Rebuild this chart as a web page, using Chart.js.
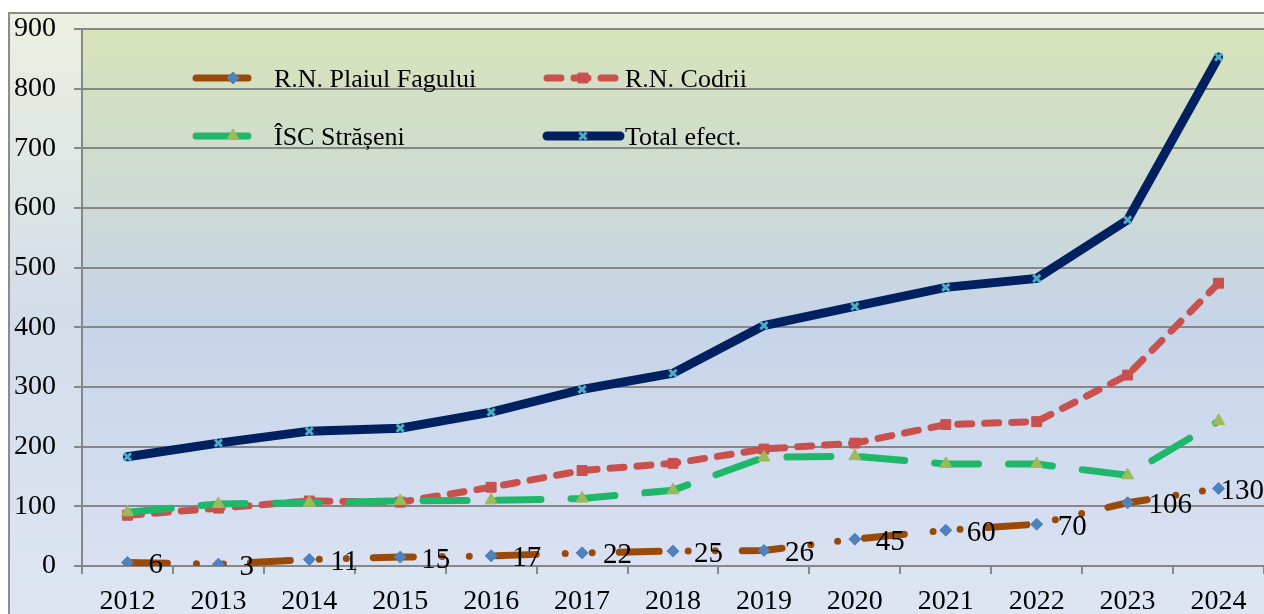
<!DOCTYPE html>
<html lang="ro">
<head>
<meta charset="UTF-8">
<title>Efective 2012-2024</title>
<script src="https://cdn.jsdelivr.net/npm/chart.js"></script>
<style>
  html, body { margin: 0; padding: 0; background: #fff; overflow: hidden; }
  #wrap { position: relative; width: 1272px; height: 614px; }
</style>
</head>
<body>
<div id="wrap"><canvas id="chart"></canvas></div>
<script>
const years = ['2012', '2013', '2014', '2015', '2016', '2017', '2018', '2019', '2020', '2021', '2022', '2023', '2024'];
const plaiulFagului = [6, 3, 11, 15, 17, 22, 25, 26, 45, 60, 70, 106, 130];
const codrii = [85, 97, 109, 107, 132, 160, 172, 196, 206, 237, 242, 320, 474];
const straseni = [90, 104, 106, 109, 110, 113, 127, 182, 184, 171, 171, 152, 243];
const totalEfect = [183, 206, 226, 231, 258, 296, 323, 403, 435, 467, 482, 580, 853];
const seriesNames = ['R.N. Plaiul Fagului', 'R.N. Codrii', 'ÎSC Strășeni', 'Total efect.'];

const serif = '"Liberation Serif", "Times New Roman", serif';
const gridGray = '#878787';

// background: outer frame + plot area gradients
const backgroundPlugin = {
  id: 'bg',
  beforeDraw(chart) {
    const ctx = chart.ctx, a = chart.chartArea;
    ctx.save();
    let g = ctx.createLinearGradient(0, 13, 0, chart.height);
    g.addColorStop(0, '#ebf0e0');
    g.addColorStop(0.5, '#d3dde9');
    g.addColorStop(1, '#dde5f3');
    ctx.fillStyle = g;
    ctx.fillRect(8, 13, chart.width - 8, chart.height - 13);
    g = ctx.createLinearGradient(0, a.top, 0, a.bottom);
    g.addColorStop(0, '#d7e3b9');
    g.addColorStop(0.55, '#c6d4e9');
    g.addColorStop(1, '#d9e1f2');
    ctx.fillStyle = g;
    ctx.fillRect(a.left, a.top, a.right - a.left, a.bottom - a.top);
    ctx.strokeStyle = '#8c8c8c';
    ctx.lineWidth = 2;
    ctx.beginPath();
    ctx.moveTo(9, chart.height);
    ctx.lineTo(9, 13);
    ctx.lineTo(chart.width, 13);
    ctx.stroke();
    ctx.restore();
  }
};

function drawMarker(ctx, ds, x, y) {
  ctx.save();
  ctx.fillStyle = ds.pointBackgroundColor;
  ctx.strokeStyle = ds.pointBorderColor;
  ctx.lineWidth = ds.pointBorderWidth || 1;
  Chart.helpers.drawPoint(ctx, {
    pointStyle: ds.pointStyle,
    radius: ds.pointRadius,
    borderWidth: ds.pointBorderWidth || 1,
    rotation: 0
  }, x, y);
  ctx.restore();
}

// value labels for the first series + legend inside the plot
const labelsPlugin = {
  id: 'labels',
  afterDatasetsDraw(chart) {
    const ctx = chart.ctx;
    ctx.save();
    ctx.fillStyle = '#000';
    ctx.font = '29px ' + serif;
    ctx.textBaseline = 'middle';
    ctx.textAlign = 'left';
    const meta = chart.getDatasetMeta(0);
    meta.data.forEach((pt, i) => {
      const txt = String(plaiulFagului[i]);
      const w = ctx.measureText(txt).width;
      let x = pt.x + 21;
      if (x + w > 1264) x = 1264 - w;
      ctx.fillText(txt, x, pt.y + 3);
    });

    // legend
    const items = [
      { ds: 0, x1: 196, x2: 248, mx: 233, tx: 274, y: 78 },
      { ds: 1, x1: 547, x2: 620, mx: 583, tx: 625, y: 78 },
      { ds: 2, x1: 196, x2: 248, mx: 233, tx: 274, y: 136 },
      { ds: 3, x1: 547, x2: 620, mx: 583, tx: 625, y: 136 }
    ];
    ctx.font = '26px ' + serif;
    ctx.textBaseline = 'alphabetic';
    items.forEach(it => {
      const ds = chart.data.datasets[it.ds];
      ctx.save();
      ctx.strokeStyle = ds.borderColor;
      ctx.lineWidth = ds.borderWidth;
      ctx.lineCap = 'round';
      ctx.setLineDash(it.ds === 1 ? ds.borderDash : []);
      ctx.beginPath();
      ctx.moveTo(it.x1, it.y);
      ctx.lineTo(it.x2, it.y);
      ctx.stroke();
      ctx.restore();
      drawMarker(ctx, ds, it.mx, it.y);
      ctx.fillStyle = '#000';
      ctx.fillText(seriesNames[it.ds], it.tx, it.y + 9);
    });
    ctx.restore();
  }
};

new Chart(document.getElementById('chart'), {
  type: 'line',
  data: {
    labels: years,
    datasets: [
      {
        label: seriesNames[0],
        data: plaiulFagului,
        borderColor: '#9a4a08',
        borderWidth: 7,
        borderDash: [40, 29, 0, 27, 0, 27],
        borderCapStyle: 'round',
        pointStyle: 'rectRot',
        pointRadius: 6,
        pointBackgroundColor: '#4f81bd',
        pointBorderColor: '#4f81bd',
        pointBorderWidth: 1,
        order: 3
      },
      {
        label: seriesNames[1],
        data: codrii,
        borderColor: '#c8504d',
        borderWidth: 7,
        borderDash: [14, 13],
        borderCapStyle: 'round',
        pointStyle: 'rect',
        pointRadius: 7,
        pointBackgroundColor: '#c8504d',
        pointBorderColor: '#c8504d',
        pointBorderWidth: 1,
        order: 2
      },
      {
        label: seriesNames[2],
        data: straseni,
        borderColor: '#1fb86a',
        borderWidth: 7,
        borderDash: [44, 30],
        borderCapStyle: 'round',
        pointStyle: 'triangle',
        pointRadius: 7,
        pointBackgroundColor: '#9bbb59',
        pointBorderColor: '#9bbb59',
        pointBorderWidth: 1,
        order: 1
      },
      {
        label: seriesNames[3],
        data: totalEfect,
        borderColor: '#002060',
        borderWidth: 9,
        borderCapStyle: 'round',
        pointStyle: 'crossRot',
        pointRadius: 5,
        pointBackgroundColor: '#4bacc6',
        pointBorderColor: '#4bacc6',
        pointBorderWidth: 3,
        order: 0
      }
    ]
  },
  options: {
    responsive: true,
    maintainAspectRatio: false,
    animation: false,
    layout: { padding: { left: 0, top: 29, right: 1, bottom: 0 } },
    plugins: {
      legend: { display: false },
      tooltip: { enabled: false }
    },
    elements: { line: { tension: 0 } },
    scales: {
      x: {
        offset: true,
        afterFit(scale) { scale.height = 48; },
        grid: {
          offset: true,
          drawOnChartArea: false,
          drawTicks: true,
          tickLength: 8,
          color: gridGray,
          lineWidth: 2
        },
        border: { display: true, color: gridGray, width: 2 },
        ticks: {
          color: '#000',
          padding: 11,
          maxRotation: 0,
          font: { family: serif, size: 28 }
        }
      },
      y: {
        min: 0,
        max: 900,
        afterFit(scale) { scale.width = 82; scale.paddingTop = 0; scale.paddingBottom = 0; },
        grid: {
          color: gridGray,
          lineWidth: 2,
          tickLength: 8
        },
        border: { display: true, color: gridGray, width: 2 },
        ticks: {
          stepSize: 100,
          color: '#000',
          padding: 18,
          font: { family: serif, size: 28, lineHeight: 1 }
        }
      }
    }
  },
  plugins: [backgroundPlugin, labelsPlugin]
});
</script>
</body>
</html>
